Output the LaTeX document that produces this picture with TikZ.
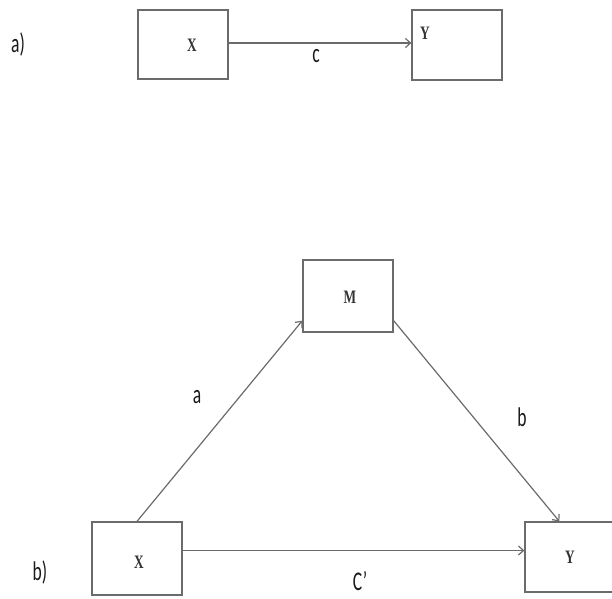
\documentclass[tikz,border=0pt]{standalone}
\usepackage{fontspec}
\setmainfont{Liberation Serif}
\newfontfamily\calib{Carlito}
\usetikzlibrary{positioning,arrows.meta}
\definecolor{linegray}{gray}{0.42}

\begin{document}
\begin{tikzpicture}[x=1pt, y=-1pt,
  box/.style={draw=linegray, line width=1.3pt, minimum width=90pt, minimum height=73pt, inner sep=0pt},
  var/.style={font=\bfseries\fontsize{19}{19}\selectfont, xscale=0.7, text=black!80, inner sep=1pt},
  lab/.style={font=\calib\fontsize{27}{27}\selectfont, xscale=0.65, text=black!90, inner sep=1pt},
  arr/.style={draw=linegray, line width=1.2pt, -{Straight Barb[length=5pt,width=9pt]}}]
\useasboundingbox (0,0) rectangle (612,598);
% a) total effect
\node[lab] (tagA) at (18,44) {a)};
\node[box, minimum height=69pt] (xa) at (183,44.5) {};
\node[box, minimum height=70pt] (ya) at (457,45) {};
\node[var] (xaT) at (192,45) {X};
\node[var] (yaT) at (425,33) {Y};
\draw[arr] ([yshift=1.5pt]xa.east) -- ([yshift=1.5pt]xa.east -| ya.west);
\node[lab] (c) at (316,56) {c};
% b) mediated effect
\node[lab] (tagB) at (40,572) {b)};
\node[box] (xb) at (137,558.5) {};
\node[box, minimum height=72pt] (mb) at (348,296) {};
\node[box, minimum width=92pt, minimum height=70pt] (yb) at (571,557) {};
\node[var] (xbT) at (139,562) {X};
\node[var] (mbT) at (350,297) {M};
\node[var] (ybT) at (570,557) {Y};
\draw[arr] (xb.north) -- ([yshift=12pt]mb.south west);
\draw[arr] ([yshift=12pt]mb.south east) -- ([xshift=35pt]yb.north west);
\draw[arr] ([yshift=8pt]xb.east) -- ([yshift=8pt]xb.east -| yb.west);
\node[lab] (a) at (197,397) {a};
\node[lab] (b) at (522,417) {b};
\node[lab] (cp) at (360,581) {C’};
\end{tikzpicture}
\end{document}
